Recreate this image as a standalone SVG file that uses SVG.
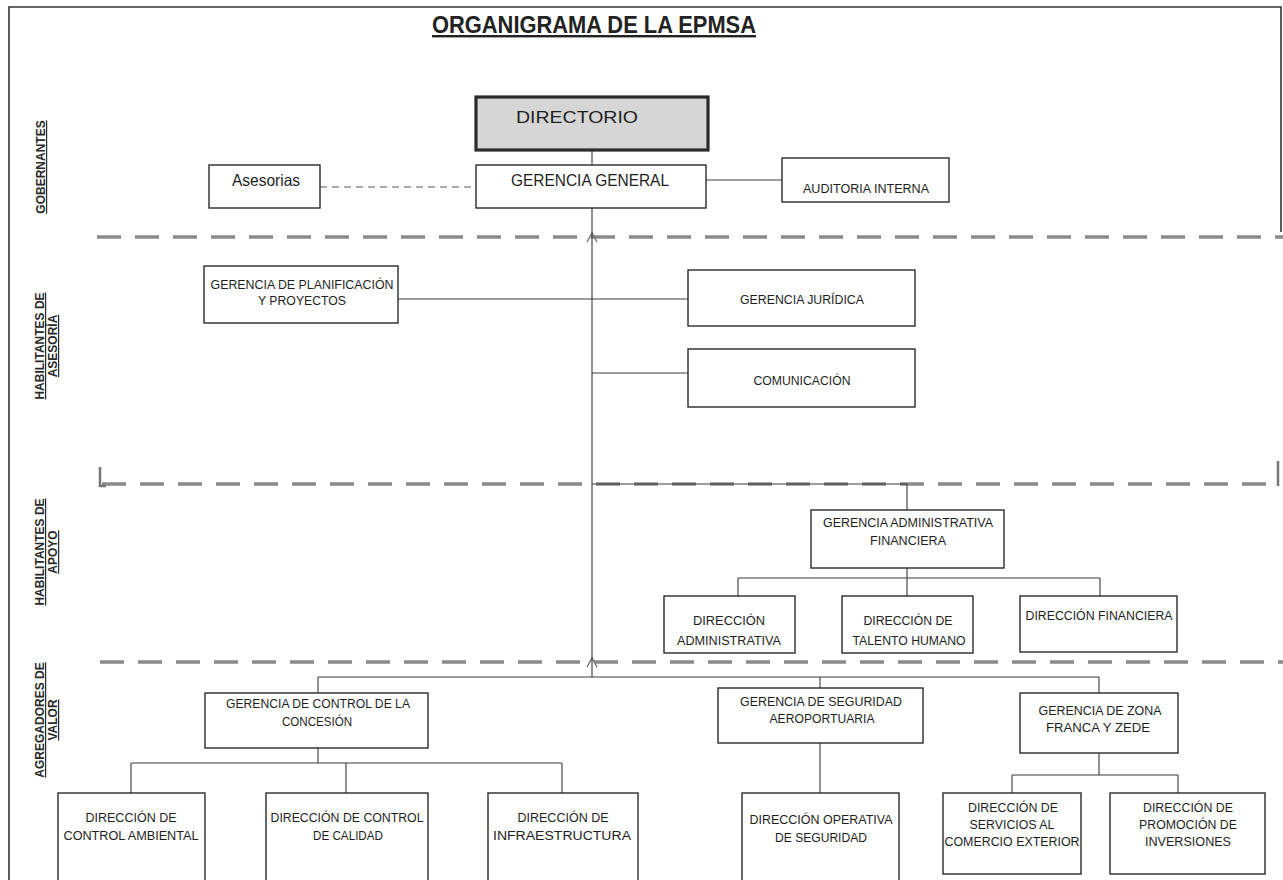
<svg xmlns="http://www.w3.org/2000/svg" width="1283" height="880" viewBox="0 0 1283 880">
<style>
.box{fill:#fff;stroke:#2a2a2a;stroke-width:1.4}
.t{font-family:"Liberation Sans",Arial,sans-serif;font-size:12.5px;fill:#1e1e1e;text-anchor:middle}
.big{font-size:16.5px}
.lbl{font-family:"Liberation Sans",Arial,sans-serif;font-size:12px;font-weight:bold;fill:#2a2a2a;text-anchor:middle;text-decoration:underline}
.con{fill:none;stroke:#3a3a3a;stroke-width:1.1}
.sep{fill:none;stroke:#8a8a8a;stroke-width:3.5;stroke-dasharray:24 14}
</style>
<rect x="0" y="0" width="1283" height="880" fill="#fff"/>
<g id="frame" fill="none" stroke="#333" stroke-width="1.6">
<path d="M9,880 V7 H1281 V232"/>
</g>
<text x="594" y="33" font-family="'Liberation Sans',Arial,sans-serif" font-size="24" font-weight="bold" fill="#222" text-anchor="middle" text-decoration="underline" textLength="324" lengthAdjust="spacingAndGlyphs">ORGANIGRAMA DE LA EPMSA</text>
<g id="separators">
<path class="sep" d="M97,237 H1283"/>
<path class="sep" d="M102,484 H1278"/>
<path class="sep" d="M100,662 H1283"/>
<path d="M100,467 V486 H106 M1278,461 V486" fill="none" stroke="#777" stroke-width="2.5"/>
<path d="M587,242 L592,233 L597,242 M587,667 L592,658 L597,667" fill="none" stroke="#777" stroke-width="1.5"/>
</g>
<g id="labels">
<text class="lbl" transform="translate(45,167) rotate(-90)">GOBERNANTES</text>
<text class="lbl" transform="translate(44,346) rotate(-90)">HABILITANTES DE</text>
<text class="lbl" transform="translate(57,346) rotate(-90)">ASESORÍA</text>
<text class="lbl" transform="translate(44,552) rotate(-90)">HABILITANTES DE</text>
<text class="lbl" transform="translate(57,552) rotate(-90)">APOYO</text>
<text class="lbl" transform="translate(44,720) rotate(-90)">AGREGADORES DE</text>
<text class="lbl" transform="translate(57,720) rotate(-90)">VALOR</text>
</g>
<g id="connectors">
<path class="con" d="M592,150 V165 M592,180 H782 M592,208 V677"/>
<path d="M320,187 H476" fill="none" stroke="#555" stroke-width="1.1" stroke-dasharray="7 5"/>
<path class="con" d="M398,299 H688 M592,373 H688"/>
<path class="con" d="M592,484 H907 V510"/>
<path class="con" d="M907,568 V578 M738,578 H1100 M738,578 V596 M907,578 V596 M1100,578 V596"/>
<path class="con" d="M318,677 H1099 M318,677 V693 M820,677 V688 M1099,677 V693"/>
<path class="con" d="M318,748 V763 M131,763 H562 M131,763 V793 M346,763 V793 M562,763 V793"/>
<path class="con" d="M820,743 V793"/>
<path class="con" d="M1099,753 V775 M1012,775 H1178 M1012,775 V793 M1178,775 V793"/>
</g>
<g id="directorio">
<rect x="476" y="97" width="232" height="53" fill="#d6d6d6" stroke="#2a2a2a" stroke-width="3.2"/>
<text class="t big" x="577" y="123" textLength="122" lengthAdjust="spacingAndGlyphs">DIRECTORIO</text>
</g>
<g id="gerencia-general">
<rect class="box" x="476" y="165" width="230" height="43"/>
<text class="t big" x="590" y="186" textLength="158" lengthAdjust="spacingAndGlyphs">GERENCIA GENERAL</text>
</g>
<g id="asesorias">
<rect class="box" x="209" y="165" width="111" height="43"/>
<text class="t big" x="266" y="186" textLength="68" lengthAdjust="spacingAndGlyphs">Asesorias</text>
</g>
<g id="auditoria">
<rect class="box" x="782" y="158" width="167" height="44"/>
<text class="t" x="866" y="193" textLength="126" lengthAdjust="spacingAndGlyphs">AUDITORIA INTERNA</text>
</g>
<g id="planificacion">
<rect class="box" x="204" y="266" width="194" height="57"/>
<text class="t" x="302" y="289" textLength="183" lengthAdjust="spacingAndGlyphs">GERENCIA DE PLANIFICACIÓN</text>
<text class="t" x="302" y="305" textLength="88" lengthAdjust="spacingAndGlyphs">Y PROYECTOS</text>
</g>
<g id="juridica">
<rect class="box" x="688" y="270" width="227" height="56"/>
<text class="t" x="802" y="304" textLength="124" lengthAdjust="spacingAndGlyphs">GERENCIA JURÍDICA</text>
</g>
<g id="comunicacion">
<rect class="box" x="688" y="349" width="227" height="58"/>
<text class="t" x="802" y="385" textLength="97" lengthAdjust="spacingAndGlyphs">COMUNICACIÓN</text>
</g>
<g id="gaf">
<rect class="box" x="811" y="510" width="193" height="58"/>
<text class="t" x="908" y="527" textLength="170" lengthAdjust="spacingAndGlyphs">GERENCIA ADMINISTRATIVA</text>
<text class="t" x="908" y="545" textLength="76" lengthAdjust="spacingAndGlyphs">FINANCIERA</text>
</g>
<g id="dir-administrativa">
<rect class="box" x="664" y="596" width="131" height="57"/>
<text class="t" x="729" y="625" textLength="72" lengthAdjust="spacingAndGlyphs">DIRECCIÓN</text>
<text class="t" x="729" y="645" textLength="104" lengthAdjust="spacingAndGlyphs">ADMINISTRATIVA</text>
</g>
<g id="dir-talento">
<rect class="box" x="842" y="596" width="131" height="57"/>
<text class="t" x="908" y="625" textLength="89" lengthAdjust="spacingAndGlyphs">DIRECCIÓN DE</text>
<text class="t" x="909" y="645" textLength="113" lengthAdjust="spacingAndGlyphs">TALENTO HUMANO</text>
</g>
<g id="dir-financiera">
<rect class="box" x="1020" y="596" width="157" height="56"/>
<text class="t" x="1099" y="620" textLength="147" lengthAdjust="spacingAndGlyphs">DIRECCIÓN FINANCIERA</text>
</g>
<g id="control-concesion">
<rect class="box" x="205" y="693" width="223" height="55"/>
<text class="t" x="318" y="708" textLength="184" lengthAdjust="spacingAndGlyphs">GERENCIA DE CONTROL DE LA</text>
<text class="t" x="317" y="726" textLength="70" lengthAdjust="spacingAndGlyphs">CONCESIÓN</text>
</g>
<g id="seguridad">
<rect class="box" x="718" y="688" width="205" height="55"/>
<text class="t" x="821" y="706" textLength="162" lengthAdjust="spacingAndGlyphs">GERENCIA DE SEGURIDAD</text>
<text class="t" x="822" y="723" textLength="105" lengthAdjust="spacingAndGlyphs">AEROPORTUARIA</text>
</g>
<g id="zona-franca">
<rect class="box" x="1020" y="693" width="158" height="60"/>
<text class="t" x="1100" y="715" textLength="123" lengthAdjust="spacingAndGlyphs">GERENCIA DE ZONA</text>
<text class="t" x="1098" y="732" textLength="104" lengthAdjust="spacingAndGlyphs">FRANCA Y ZEDE</text>
</g>
<g id="dir-ambiental">
<rect class="box" x="58" y="793" width="147" height="100"/>
<text class="t" x="131" y="822" textLength="91" lengthAdjust="spacingAndGlyphs">DIRECCIÓN DE</text>
<text class="t" x="131" y="840" textLength="135" lengthAdjust="spacingAndGlyphs">CONTROL AMBIENTAL</text>
</g>
<g id="dir-calidad">
<rect class="box" x="266" y="793" width="162" height="100"/>
<text class="t" x="347" y="822" textLength="153" lengthAdjust="spacingAndGlyphs">DIRECCIÓN DE CONTROL</text>
<text class="t" x="348" y="840" textLength="70" lengthAdjust="spacingAndGlyphs">DE CALIDAD</text>
</g>
<g id="dir-infraestructura">
<rect class="box" x="488" y="793" width="150" height="100"/>
<text class="t" x="563" y="822" textLength="91" lengthAdjust="spacingAndGlyphs">DIRECCIÓN DE</text>
<text class="t" x="562" y="840" textLength="138" lengthAdjust="spacingAndGlyphs">INFRAESTRUCTURA</text>
</g>
<g id="dir-operativa">
<rect class="box" x="742" y="793" width="157" height="100"/>
<text class="t" x="821" y="824" textLength="143" lengthAdjust="spacingAndGlyphs">DIRECCIÓN OPERATIVA</text>
<text class="t" x="821" y="842" textLength="92" lengthAdjust="spacingAndGlyphs">DE SEGURIDAD</text>
</g>
<g id="dir-comercio">
<rect class="box" x="943" y="793" width="138" height="81"/>
<text class="t" x="1013" y="812" textLength="90" lengthAdjust="spacingAndGlyphs">DIRECCIÓN DE</text>
<text class="t" x="1012" y="829" textLength="85" lengthAdjust="spacingAndGlyphs">SERVICIOS AL</text>
<text class="t" x="1012" y="846" textLength="135" lengthAdjust="spacingAndGlyphs">COMERCIO EXTERIOR</text>
</g>
<g id="dir-inversiones">
<rect class="box" x="1110" y="793" width="155" height="81"/>
<text class="t" x="1188" y="812" textLength="90" lengthAdjust="spacingAndGlyphs">DIRECCIÓN DE</text>
<text class="t" x="1188" y="829" textLength="98" lengthAdjust="spacingAndGlyphs">PROMOCIÓN DE</text>
<text class="t" x="1188" y="846" textLength="86" lengthAdjust="spacingAndGlyphs">INVERSIONES</text>
</g>
</svg>
